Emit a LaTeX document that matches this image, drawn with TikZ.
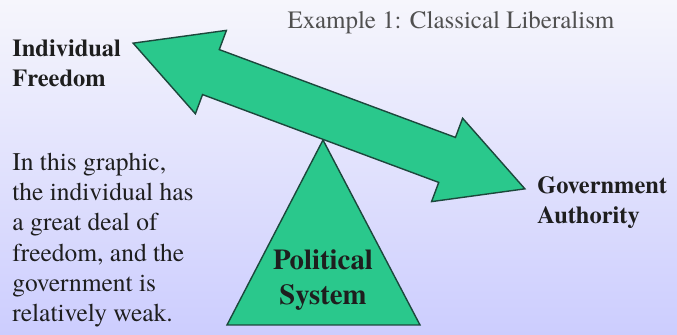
\documentclass[tikz,border=0pt]{standalone}
\usepackage{fontspec}
\setmainfont{texgyretermes}[Extension=.otf, UprightFont=*-regular, BoldFont=*-bold]
\usetikzlibrary{positioning}
\definecolor{beamGreen}{RGB}{42, 200, 140}
\definecolor{beamEdge}{RGB}{28, 72, 60}
\definecolor{skyTop}{RGB}{246, 246, 252}
\definecolor{skyBottom}{RGB}{204, 205, 254}
\definecolor{titleGray}{RGB}{80, 80, 80}
\definecolor{inkDark}{RGB}{30, 30, 30}

\begin{document}
\begin{tikzpicture}[x=0.02cm, y=0.02cm,
        side/.style={font=\bfseries\fontsize{13.9}{17}\selectfont, text=inkDark, align=left, inner sep=0pt},
        note/.style={font=\fontsize{14.5}{17.2}\selectfont, text=inkDark, align=left, inner sep=0pt},
        piece/.style={line width=0.8pt, draw=beamEdge, fill=beamGreen, line join=miter}]
        % Background
        \shade[top color=skyTop, bottom color=skyBottom] (0,0) rectangle (677,335);
        \useasboundingbox (0,0) rectangle (677,335);

        % Fulcrum
        \draw[piece] (227,10) -- (323,195) -- (420,10) -- cycle;
        \node[font=\bfseries\fontsize{16.4}{20}\selectfont, text=inkDark, align=center] (system) at (323,55) {Political\\System};

        % Beam with two heads
        \begin{scope}[shift={(329,219)}, rotate=-20.4]
            \draw[piece] (-209,0) -- (-126,44.5) -- (-126,24) -- (126,24) -- (126,44.5)
                -- (209,0) -- (126,-44.5) -- (126,-24) -- (-126,-24) -- (-126,-44.5) -- cycle;
        \end{scope}

        % Labels
        \node[font=\fontsize{14.2}{17}\selectfont, text=titleGray] (title) at (451,312) {Example 1: Classical Liberalism};
        \node[side, anchor=west] (freedom) at (12,272) {Individual\\Freedom};
        \node[side, anchor=west] (authority) at (537,132) {Government\\Authority};
        \node[note, anchor=west] (remark) at (12,95) {In this graphic,\\the individual has\\a great deal of\\freedom, and the\\government is\\relatively weak.};
    \end{tikzpicture}
\end{document}
